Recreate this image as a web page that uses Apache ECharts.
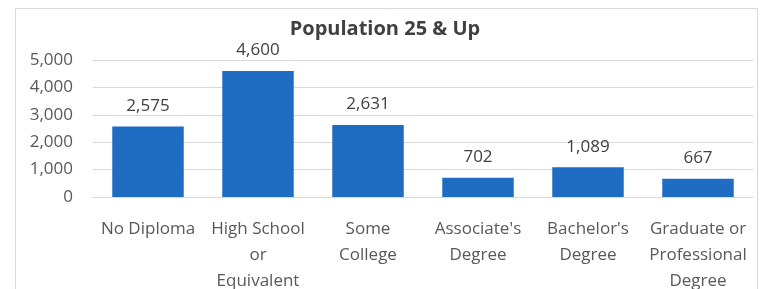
<!DOCTYPE html>
<html><head><meta charset="utf-8">
<script src="https://cdn.jsdelivr.net/npm/echarts@6/dist/echarts.min.js"></script>
<style>html,body{margin:0;padding:0;background:#fff}#c{width:770px;height:289px}</style>
</head><body><div id="c"></div>
<script>
const title = "Population 25 & Up";
const categories = ["No Diploma", "High School\nor\nEquivalent", "Some\nCollege", "Associate's\nDegree", "Bachelor's\nDegree", "Graduate or\nProfessional\nDegree"];
const values = [2575, 4600, 2631, 702, 1089, 667];
const yTicks = [0, 1000, 2000, 3000, 4000, 5000];

const chart = echarts.init(document.getElementById('c'), null, {renderer: 'canvas'});
const font = '"Open Sans", sans-serif';
chart.setOption({
  animation: false,
  graphic: [{type: 'rect', shape: {x: 15.5, y: 8.5, width: 742, height: 300}, style: {fill: 'none', stroke: '#d9d9d9', lineWidth: 1}}],
  title: {text: title, left: 'center', top: 14, textStyle: {fontFamily: font, fontSize: 20, fontWeight: 'bold', color: '#404040'}},
  grid: {left: 93, right: 17, top: 60, bottom: 92, containLabel: false, outerBoundsMode: 'none'},
  xAxis: {type: 'category', data: categories,
    axisLine: {lineStyle: {color: '#d9d9d9'}}, axisTick: {show: false},
    axisLabel: {interval: 0, fontFamily: font, fontSize: 17, color: '#595959', lineHeight: 26, margin: 19}},
  yAxis: {type: 'value', min: yTicks[0], max: yTicks[yTicks.length-1], interval: 1000,
    axisLine: {show: false}, axisTick: {show: false},
    splitLine: {lineStyle: {color: '#d9d9d9'}},
    axisLabel: {fontFamily: font, fontSize: 17, color: '#595959', margin: 20,
      formatter: v => v.toLocaleString('en-US')}},
  series: [{type: 'bar', data: values, barWidth: '65%',
    itemStyle: {color: '#1f6dc2'},
    label: {show: true, position: 'top', distance: 12, fontFamily: font, fontSize: 17, color: '#404040',
      formatter: p => p.value.toLocaleString('en-US')}}]
});
</script></body></html>
